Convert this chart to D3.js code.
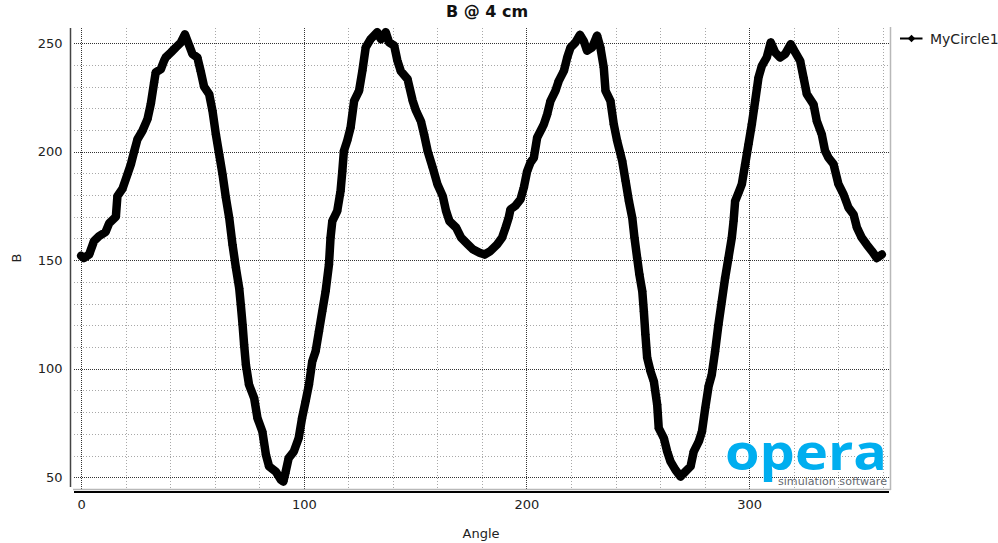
<!DOCTYPE html>
<html>
<head>
<meta charset="utf-8">
<script src="https://cdn.jsdelivr.net/npm/d3@7/dist/d3.min.js"></script>
<style>
  html, body { margin: 0; padding: 0; background: #fff; }
  svg { display: block; font-family: "DejaVu Sans", Verdana, sans-serif; }
</style>
</head>
<body>
<svg id="chart" width="998" height="543"></svg>
<script>
// Field magnitude B sampled around a circle of radius 4 cm
const angles = [
  0, 1.3, 3.6, 5.8, 8, 11, 12.6, 15.6, 16.3, 18.6, 20.8, 22.3, 23.8, 25.3, 27.5, 29.8,
  31.3, 32.8, 33.5, 35.8, 37.3, 38, 40.3, 42.5, 44.8, 46.6, 48.5, 50, 52.2, 53.7, 55.2,
  57.5, 59, 60.5, 62, 63.5, 65, 66.5, 68, 69.5, 71, 71.7, 72.5, 73.2, 74, 75.4, 77.7,
  79.2, 81.4, 83, 84.4, 87.4, 89.7, 90.8, 91.7, 93.2, 95.5, 97.7, 99.2, 100.8, 102.3,
  103.8, 105.3, 106.8, 108.3, 109.8, 111.3, 112, 112.8, 115, 116.5, 117.3, 118, 119.5,
  121, 122.6, 124.8, 126.3, 127.8, 130, 133, 134.6, 136.8, 138.3, 140.6, 142, 143.6,
  146.6, 148.9, 150.4, 152.6, 154, 155.6, 157.9, 160, 162.4, 163.9, 165.4, 168.4, 170.7,
  173.7, 175.9, 178.9, 181.2, 183.8, 186.8, 189, 190.6, 192, 192.8, 195, 197.3, 198.8,
  200.3, 201.8, 203.3, 204.8, 206.3, 207.8, 209.3, 210.8, 213, 214.5, 216.8, 218.3,
  219.8, 222, 224, 225.7, 227.2, 229.5, 231.7, 233.2, 234.7, 235.5, 237.7, 239.2, 240.7,
  243, 244.5, 246, 247.5, 248.5, 249.7, 250.7, 252, 252.7, 253.4, 254.2, 255.7, 257.2,
  258.7, 259.4, 261.7, 263.2, 264.7, 266.9, 269.2, 271.4, 273.7, 275.1, 277.4, 278.8,
  280.3, 281.8, 283.2, 284.7, 286.2, 287.7, 289.2, 290.7, 292.2, 293, 293.7, 295.2,
  296.7, 298.2, 299.7, 301.2, 302.7, 304.2, 305.7, 307.9, 309.7, 311.7, 313.9, 316.2,
  318.7, 320.7, 322.9, 324.4, 325.9, 328.9, 330.4, 332.6, 334.1, 335.6, 337.9, 340.1,
  342.4, 344.6, 346.9, 348.4, 350.6, 352.8, 355.1, 357.3, 359.6
];
const fieldB = [
  152, 151, 152.6, 158.8, 161, 163, 167, 170, 179.5, 183, 189.5, 194, 200, 205.7, 209.5, 215,
  222, 232, 236.5, 238, 242, 243.4, 245.7, 248, 250.3, 254, 249, 245, 243.4, 237, 230,
  226.5, 218.8, 208, 198.8, 189.5, 178.8, 169.5, 157, 146.5, 137, 129.5, 120.3, 111, 101.8, 92.6, 86.5,
  77.2, 71, 60.3, 55, 52.6, 48.8, 48, 51.8, 58.8, 61.8, 68, 77.2, 85, 92.6,
  103.4, 108, 117.2, 126.5, 135.7, 148, 160.3, 168, 172.6, 181.8, 191, 200.3, 205,
  211, 223.4, 228, 237.2, 248, 251.8, 255, 251.8, 255, 250.3, 248.8, 242, 237,
  233.4, 223.4, 218.8, 214, 208, 200.3, 192.6, 185, 179.5, 172.6, 168, 165, 160.3,
  157.2, 155, 153.4, 152.6, 154.2, 157.2, 160.3, 165, 169.5, 173.4, 175, 178, 183.4,
  191, 195, 197.2, 206.5, 209.5, 212.6, 217.2, 223.4, 228, 232.6, 237.2, 243.4,
  248, 250.3, 253.8, 251, 246.5, 248, 253.4, 248, 238.8, 228, 223.4, 212.6, 205,
  195.7, 186.5, 177.2, 169.5, 160.3, 151, 143.4, 135.7, 126.5, 115.7, 105, 98.8, 94.2,
  83.4, 72.6, 68, 61.8, 57.2, 53.4, 50.3, 52.6, 55, 61.8, 66.5, 71,
  82, 92, 97.2, 108, 120.3, 131, 141.8, 151, 160.3, 168, 177.2, 181,
  185, 194.2, 203.4, 212.6, 223.4, 234.2, 239.5, 243.4, 250.3, 245.7, 243.4, 245,
  249.5, 245.7, 241.8, 234.2, 226.5, 221.8, 214, 208, 200.3, 197.2, 194.2, 185,
  180.3, 174.2, 171, 165, 160.3, 157.2, 154.2, 151, 152.6
];

const xTicks = [0, 100, 200, 300];
const yTicks = [50, 100, 150, 200, 250];
const xMinorTicks = d3.range(0, 361, 20);
const yMinorTicks = d3.range(50, 251, 10);

const titleText = "B @ 4 cm";
const xLabel = "Angle";
const yLabel = "B";
const seriesName = "MyCircle1";

const svg = d3.select("#chart");

// plot canvas bounds
const plotLeft = 74, plotRight = 889, plotTop = 28, plotBottom = 487;

const x = d3.scaleLinear().domain([-3.2, 362.8]).range([plotLeft, plotRight]);
const y = d3.scaleLinear().domain([45.5, 256.95]).range([plotBottom, plotTop]);

// minor grid
const grid = svg.append("g");
grid.selectAll("line.vminor").data(xMinorTicks.filter(d => !xTicks.includes(d)))
  .join("line")
  .attr("x1", d => Math.round(x(d)) + 0.5).attr("x2", d => Math.round(x(d)) + 0.5)
  .attr("y1", plotTop).attr("y2", plotBottom + 2)
  .attr("stroke", "#a8a8a8").attr("stroke-width", 1).attr("stroke-dasharray", "1,2");
grid.selectAll("line.hminor").data(yMinorTicks.filter(d => !yTicks.includes(d)))
  .join("line")
  .attr("y1", d => Math.round(y(d)) + 0.5).attr("y2", d => Math.round(y(d)) + 0.5)
  .attr("x1", plotLeft).attr("x2", plotRight)
  .attr("stroke", "#a8a8a8").attr("stroke-width", 1).attr("stroke-dasharray", "1,2");
// major grid
grid.selectAll("line.vmajor").data(xTicks)
  .join("line")
  .attr("x1", d => Math.round(x(d)) + 0.5).attr("x2", d => Math.round(x(d)) + 0.5)
  .attr("y1", plotTop).attr("y2", plotBottom + 2)
  .attr("stroke", "#333").attr("stroke-width", 1).attr("stroke-dasharray", "1,1");
grid.selectAll("line.hmajor").data(yTicks)
  .join("line")
  .attr("y1", d => Math.round(y(d)) + 0.5).attr("y2", d => Math.round(y(d)) + 0.5)
  .attr("x1", plotLeft).attr("x2", plotRight)
  .attr("stroke", "#333").attr("stroke-width", 1).attr("stroke-dasharray", "1,1");

// canvas frame (bottom and right edges)
svg.append("line").attr("x1", plotLeft - 1).attr("x2", plotRight + 1.5).attr("y1", 489.5).attr("y2", 489.5)
  .attr("stroke", "#b8b8b8").attr("stroke-width", 1.5);
svg.append("line").attr("x1", plotRight + 1.5).attr("x2", plotRight + 1.5).attr("y1", plotTop - 1).attr("y2", 490)
  .attr("stroke", "#b8b8b8").attr("stroke-width", 1.5);

// axes
const yAxis = d3.axisLeft(y).tickValues(yTicks).tickSize(0).tickPadding(8);
const gy = svg.append("g").attr("transform", "translate(70.5,0)").call(yAxis);
gy.select(".domain").attr("d", `M0,${plotTop}V${plotBottom}`).attr("stroke", "#444").attr("stroke-width", 1.5);
gy.selectAll("text").attr("font-size", 13).attr("fill", "#222").attr("font-family", "DejaVu Sans");

const xAxis = d3.axisBottom(x).tickValues(xTicks).tickSize(0).tickPadding(8);
const gx = svg.append("g").attr("transform", "translate(0,492)").call(xAxis);
gx.select(".domain").attr("d", `M${plotLeft},0H${plotRight}`).attr("stroke", "#000").attr("stroke-width", 2);
gx.selectAll("text").attr("font-size", 13).attr("fill", "#222").attr("font-family", "DejaVu Sans");

// titles
svg.append("text").attr("x", 487).attr("y", 17).attr("text-anchor", "middle")
  .attr("font-size", 16).attr("font-weight", "bold").attr("fill", "#111").text(titleText);
svg.append("text").attr("x", 481).attr("y", 538).attr("text-anchor", "middle")
  .attr("font-size", 13).attr("fill", "#222").text(xLabel);
svg.append("text").attr("transform", "translate(21,258) rotate(-90)").attr("text-anchor", "middle")
  .attr("font-size", 13).attr("fill", "#222").text(yLabel);

// logo
const logo = svg.append("g");
logo.append("text").attr("x", 725).attr("y", 470).attr("font-size", 50).attr("font-weight", "bold")
  .attr("fill", "#00aeef").attr("textLength", 162).attr("lengthAdjust", "spacingAndGlyphs")
  .attr("font-family", "'Open Sans', 'DejaVu Sans', sans-serif").text("opera");
logo.append("text").attr("x", 778).attr("y", 485).attr("font-size", 10.5)
  .attr("fill", "#666a70").attr("textLength", 109).attr("lengthAdjust", "spacingAndGlyphs")
  .text("simulation software");

// data series
const pts = angles.map((a, i) => [a, fieldB[i]]);
const line = d3.line().x(d => x(d[0])).y(d => y(d[1]));
const plot = svg.append("g");
plot.append("path").attr("d", line(pts)).attr("fill", "none").attr("stroke", "#000")
  .attr("stroke-width", 8.5).attr("stroke-linejoin", "round").attr("stroke-linecap", "round");
const diamond = d3.symbol().type(d3.symbolDiamond2).size(50);
plot.selectAll("path.pt").data(pts).join("path")
  .attr("transform", d => `translate(${x(d[0])},${y(d[1])})`)
  .attr("d", diamond).attr("fill", "#000");

// legend
const lg = svg.append("g").attr("transform", "translate(900,38.5)");
lg.append("line").attr("x1", 0).attr("x2", 22.5).attr("y1", 0).attr("y2", 0)
  .attr("stroke", "#000").attr("stroke-width", 2);
lg.append("path").attr("transform", "translate(11.5,0)")
  .attr("d", d3.symbol().type(d3.symbolDiamond2).size(36)).attr("fill", "#000");
lg.append("text").attr("x", 30).attr("y", 5.3).attr("font-size", 14).attr("fill", "#222")
  .text(seriesName);
</script>
</body>
</html>
